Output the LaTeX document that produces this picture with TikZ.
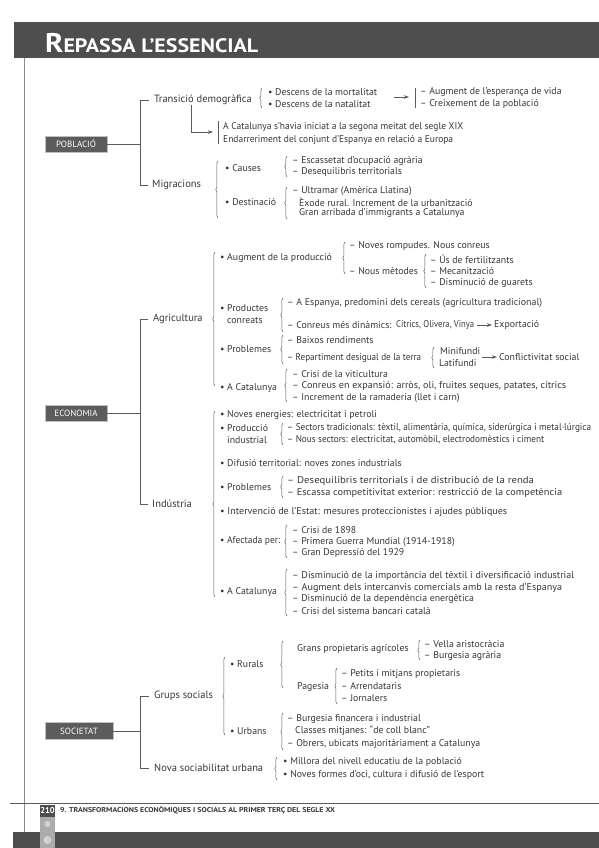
\documentclass[tikz,border=0pt]{standalone}
\usepackage{fontspec}
\usepackage{graphicx}
\setmainfont{PT Sans}
\usetikzlibrary{decorations.pathreplacing,arrows.meta}
\definecolor{ink}{HTML}{383838}
\definecolor{rule}{HTML}{5A5A5A}
\definecolor{boxgray}{HTML}{5C5C5C}
\definecolor{bandgray}{HTML}{4E4E4E}
\newsavebox\fwbox
\newcommand\fw[2]{\sbox\fwbox{#2}\scalebox{\fpeval{max(0.8,min(1.1,(#1)/(\the\wd\fwbox)))}}[1]{\usebox\fwbox}}
\newcommand\fwx[2]{\sbox\fwbox{#2}\scalebox{\fpeval{(#1)/(\the\wd\fwbox)}}[1]{\usebox\fwbox}}
\begin{document}
\begin{tikzpicture}[x=1pt,y=-1pt,
 item/.style={anchor=west,inner sep=0pt,text=ink,font=\fontsize{9.8}{11.5}\selectfont,align=left},
 head/.style={anchor=west,inner sep=0pt,text=ink,font=\fontsize{10.5}{12}\selectfont},
 secbox/.style={fill=boxgray,draw=gray!50,line width=0.8pt,text=white,font=\fontsize{9}{10}\selectfont,minimum width=62pt,minimum height=16pt,inner sep=0pt},
 ln/.style={draw=rule,line width=0.7pt},
 br/.style={draw=rule,line width=0.55pt,decorate,decoration={brace,amplitude=2.2pt}},
 arr/.style={draw=rule,line width=0.7pt,-{Stealth[length=5pt,width=3.5pt]}},
]
\useasboundingbox (0,0) rectangle (599,848);
\fill[white] (0,0) rectangle (599,848);

% header
\fill[bandgray] (14,22) rectangle (599,58);
\node[anchor=base west,inner sep=0pt,text=white,font=\bfseries] (title) at (45,53)
  {\fwx{213}{{\fontsize{27}{27}\selectfont R}{\fontsize{19.5}{20}\selectfont EPASSA L'ESSENCIAL}}};
\draw[rule!70,line width=0.6pt] (24,58) -- (24,832);

% footer
\draw[rule,line width=0.6pt] (10,803) -- (599,803);
\fill[gray!65] (40,817) rectangle (55,848);
\fill[gray!35] (47.5,824) circle (3pt);
\fill[bandgray] (13,832) rectangle (599,848);
\fill[gray!65] (40,832) rectangle (55,848);
\fill[gray!35] (47.5,840) circle (4pt);
\node[fill=bandgray,text=white,font=\bfseries\fontsize{8.5}{8.5}\selectfont,minimum width=15pt,minimum height=12pt,inner sep=0pt] (pg) at (47.5,811) {210};
\node[anchor=west,inner sep=0pt,font=\bfseries\fontsize{7}{7}\selectfont,text=ink] (chap) at (60,810) {\fwx{275}{9. TRANSFORMACIONS ECONÒMIQUES I SOCIALS AL PRIMER TERÇ DEL SEGLE XX}};

% ================= POBLACIO =================
\node[secbox] (pob) at (76,144) {POBLACIÓ};
\node[head] (td) at (154,100) {Transició demogràfica};
\node[head] (mig) at (152,185) {Migracions};
\coordinate (ps) at (140,144);
\coordinate (pt) at (140,100);
\coordinate (pb) at (140,185);
\draw[ln] (pob.east) -- (ps);
\draw[ln] ([xshift=-5pt]td.west) -- (pt) -- (pb) -- ([xshift=-4pt]mig.west);

\draw[br] (262,108) -- (262,88);
\node[item] (dmort) at (268,92) {• Descens de la mortalitat};
\node[item] (dnat) at (268,104) {• Descens de la natalitat};
\coordinate (a1s) at (394,97);
\coordinate (a1e) at (409,97);
\draw[arr] (a1s) -- (a1e);
\draw[ln,line width=0.55pt] (415,88) -- (415,108);
\node[item] (aesp) at (420,92) {– Augment de l'esperança de vida};
\node[item] (cpob) at (420,104) {– Creixement de la població};

\coordinate (tdc) at (191,132);
\coordinate (tde) at (213,132);
\draw[arr] (td.south -| tdc) -- (tdc) -- (tde);
\draw[ln,line width=0.55pt] (218,121) -- (218,144);
\node[item] (cat19) at (223,127) {\fw{240}{A Catalunya s'havia iniciat a la segona meitat del segle XIX}};
\node[item] (endar) at (223,140) {\fw{230}{Endarreriment del conjunt d'Espanya en relació a Europa}};

\draw[br] (218,218) -- (218,161);
\node[item] (caus) at (225,168) {• Causes};
\draw[br] (287,177) -- (287,156);
\node[item] at (292,161) {– Escassetat d'ocupació agrària};
\node[item] at (292,172) {– Desequilibris territorials};
\node[item] (dest) at (225,202) {• Destinació};
\draw[br] (287,219) -- (287,187);
\node[item] at (292,191) {– Ultramar (Amèrica Llatina)};
\node[item] at (299,202) {Èxode rural. Increment de la urbanització};
\node[item] at (299,213) {Gran arribada d'immigrants a Catalunya};

% ================= ECONOMIA =================
\node[secbox] (eco) at (76,413) {ECONOMIA};
\node[head] (agr) at (153,319) {Agricultura};
\node[head] (ind) at (152,504) {Indústria};
\coordinate (es) at (140,413);
\coordinate (et) at (140,319);
\coordinate (eb) at (140,504);
\draw[ln] (eco.east) -- (es);
\draw[ln] ([xshift=-5pt]agr.west) -- (et) -- (eb) -- ([xshift=-4pt]ind.west);

\draw[br] (215,386) -- (215,252);
\node[item] (augp) at (220,258) {• Augment de la producció};
\draw[br] (345,274) -- (345,242);
\node[item] at (349,246) {– Noves rompudes. Nous conreus};
\node[item] (nm) at (349,271) {– Nous mètodes};
\draw[br] (426,288) -- (426,254);
\node[item] at (430,259) {– Ús de fertilitzants};
\node[item] at (430,271) {– Mecanització};
\node[item] at (430,283) {– Disminució de guarets};

\node[item] (prc) at (220,314) {• Productes\\\phantom{• }conreats};
\draw[br] (283,332) -- (283,298);
\node[item] at (287,303) {\fw{255}{– A Espanya, predomini dels cereals (agricultura tradicional)}};
\node[item] (cmd) at (287,325) {– Conreus més dinàmics:};
\node[item] (cov) at (396,325) {\fw{78}{Cítrics, Olivera, Vinya}};
\node[item] (expo) at (494,325) {Exportació};
\draw[arr] ([xshift=3pt]cov.east) -- ([xshift=-2pt]expo.west);

\node[item] (pra) at (220,349) {• Problemes};
\draw[br] (283,364) -- (283,335);
\node[item] at (287,340) {– Baixos rendiments};
\node[item] (rdt) at (287,358) {\fw{134}{– Repartiment desigual de la terra}};
\draw[br] (434,368) -- (434,347);
\node[item] (minif) at (440,351) {Minifundi};
\node[item] (latif) at (439,363) {Latifundi};
\node[item] (conf) at (499,357) {Conflictivitat social};
\coordinate (a2s) at (482,357);
\draw[arr] (a2s) -- ([xshift=-2pt]conf.west);

\node[item] (cata) at (220,388) {• A Catalunya};
\draw[br] (287,402) -- (287,369);
\node[item] at (292,374) {– Crisi de la viticultura};
\node[item] at (292,386) {\fw{274}{– Conreus en expansió: arròs, oli, fruites seques, patates, cítrics}};
\node[item] at (292,398) {– Increment de la ramaderia (llet i carn)};

\draw[br] (215,597) -- (215,411);
\node[item] at (220,415) {• Noves energies: electricitat i petroli};
\node[item] (pind) at (220,434) {• Producció\\\phantom{• }industrial};
\draw[br] (283,445) -- (283,423);
\node[item] at (287,428) {\fw{304}{– Sectors tradicionals: tèxtil, alimentària, química, siderúrgica i metal·lúrgica}};
\node[item] at (287,440) {\fw{257}{– Nous sectors: electricitat, automòbil, electrodomèstics i ciment}};
\node[item] at (220,463) {• Difusió territorial: noves zones industrials};
\node[item] (pri) at (220,487) {• Problemes};
\draw[br] (283,498) -- (283,476);
\node[item] at (287,481) {\fw{256}{– Desequilibris territorials i de distribució de la renda}};
\node[item] at (287,493) {\fw{275}{– Escassa competitivitat exterior: restricció de la competència}};
\node[item] at (220,512) {\fw{287}{• Intervenció de l'Estat: mesures proteccionistes i ajudes públiques}};
\node[item] (afe) at (220,541) {\fw{60}{• Afectada per:}};
\draw[br] (287,558) -- (287,525);
\node[item] at (292,530) {– Crisi de 1898};
\node[item] at (292,542) {– Primera Guerra Mundial (1914-1918)};
\node[item] at (292,553) {– Gran Depressió del 1929};
\node[item] (catb) at (220,592) {• A Catalunya};
\draw[br] (287,616) -- (287,569);
\node[item] at (292,576) {\fw{282}{– Disminució de la importància del tèxtil i diversificació industrial}};
\node[item] at (292,588) {\fw{270}{– Augment dels intercanvis comercials amb la resta d'Espanya}};
\node[item] at (292,599) {– Disminució de la dependència energètica};
\node[item] at (292,611) {– Crisi del sistema bancari català};

% ================= SOCIETAT =================
\node[secbox,minimum width=68pt,minimum height=17pt] (soc) at (79,731) {SOCIETAT};
\node[head] (gs) at (154,696) {Grups socials};
\node[head] (nsu) at (154,768) {Nova sociabilitat urbana};
\coordinate (ss) at (140,731);
\coordinate (st) at (140,696);
\coordinate (sb) at (140,768);
\draw[ln] (soc.east) -- (ss);
\draw[ln] ([xshift=-5pt]gs.west) -- (st) -- (sb) -- ([xshift=-5pt]nsu.west);

\draw[br] (225,735) -- (225,657);
\node[item] (rur) at (230,664) {• Rurals};
\draw[br] (283,688) -- (283,641);
\node[item] (gpa) at (297,649) {Grans propietaris agrícoles};
\draw[br] (420,660) -- (420,640);
\node[item] at (424,644) {– Vella aristocràcia};
\node[item] at (424,656) {– Burgesia agrària};
\node[item] (pag) at (297,687) {Pagesia};
\draw[br] (337,704) -- (337,668);
\node[item] at (341,674) {– Petits i mitjans propietaris};
\node[item] at (341,686) {– Arrendataris};
\node[item] at (341,698) {– Jornalers};
\node[item] (urb) at (230,731) {• Urbans};
\draw[br] (283,750) -- (283,713);
\node[item] at (287,719) {– Burgesia financera i industrial};
\node[item] at (295,731) {Classes mitjanes: “de coll blanc”};
\node[item] at (287,744) {– Obrers, ubicats majoritàriament a Catalunya};

\draw[br] (277,780) -- (277,757);
\node[item] at (283,762) {• Millora del nivell educatiu de la població};
\node[item] at (283,775) {• Noves formes d'oci, cultura i difusió de l'esport};
\end{tikzpicture}
\end{document}
